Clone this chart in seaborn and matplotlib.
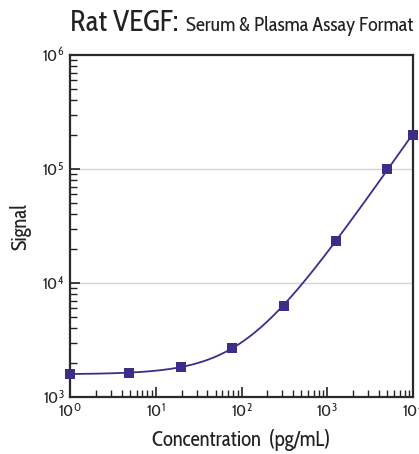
import numpy as np
import pandas as pd
import matplotlib
matplotlib.use("Agg")
import matplotlib.pyplot as plt
import seaborn as sns
from matplotlib.ticker import LogLocator, FixedLocator, NullFormatter

# Data
concentration = [1.0, 4.88, 19.5, 78.0, 312.5, 1250.0, 5000.0, 10000.0]
signal = [1590, 1620, 1850, 2700, 6300, 23500, 100000, 200000]
x_ticks = [1, 10, 100, 1000, 10000]
x_tick_labels = [r"$10^0$", r"$10^1$", r"$10^2$", r"$10^3$", r"$10^4$"]
y_ticks = [1000, 10000, 100000, 1000000]
y_tick_labels = [r"$10^3$", r"$10^4$", r"$10^5$", r"$10^6$"]

color = "#3b2e8a"

sns.set_style("white")
FONT = ["Cabin Condensed", "DejaVu Sans"]
plt.rcParams["font.family"] = FONT
plt.rcParams["mathtext.fontset"] = "custom"
plt.rcParams["mathtext.rm"] = "Cabin Condensed"
plt.rcParams["mathtext.it"] = "Cabin Condensed"
plt.rcParams["mathtext.bf"] = "Cabin Condensed"

# Fit baseline + power law (curve fitted from the data points)
x = np.array(concentration)
y = np.array(signal, dtype=float)
best = None
for n in np.linspace(0.5, 2.0, 301):
    A = np.vstack([np.ones_like(x), x ** n]).T / y[:, None]
    coef, *_ = np.linalg.lstsq(A, np.ones_like(y), rcond=None)
    pred = coef[0] + coef[1] * x ** n
    if np.all(pred > 0):
        err = np.sum((np.log(pred) - np.log(y)) ** 2)
        if best is None or err < best[0]:
            best = (err, n, coef)
_, n_fit, c_fit = best
xf = np.logspace(0, 4, 300)
yf = c_fit[0] + c_fit[1] * xf ** n_fit
fit_df = pd.DataFrame({"x": xf, "y": yf})
pts_df = pd.DataFrame({"x": concentration, "y": signal})

fig = plt.figure(figsize=(4.19, 4.54), dpi=100)
ax = fig.add_axes([70 / 419, 1 - 397 / 454, (413 - 70) / 419, (397 - 55) / 454])
ax.set_xscale("log")
ax.set_yscale("log")

for yy in [1e4, 1e5]:
    ax.axhline(yy, color="#d4d4d4", lw=1.0, zorder=0)

sns.lineplot(data=fit_df, x="x", y="y", ax=ax, color=color, lw=1.3, zorder=2)
sns.scatterplot(data=pts_df, x="x", y="y", ax=ax, color=color, marker="s",
                s=62, edgecolor=color, linewidth=0, zorder=3, clip_on=False)

ax.set_xlim(1, 10000)
ax.set_ylim(1000, 1e6)
ax.xaxis.set_major_locator(FixedLocator(x_ticks))
ax.yaxis.set_major_locator(FixedLocator(y_ticks))
ax.set_xticklabels(x_tick_labels)
ax.set_yticklabels(y_tick_labels)
ax.xaxis.set_minor_locator(LogLocator(base=10, subs=np.arange(2, 10)))
ax.yaxis.set_minor_locator(LogLocator(base=10, subs=np.arange(2, 10)))
ax.xaxis.set_minor_formatter(NullFormatter())
ax.yaxis.set_minor_formatter(NullFormatter())
ax.tick_params(axis="both", which="both", direction="in", color="#222222",
               bottom=True, left=True, top=False, right=False)
ax.tick_params(axis="both", which="major", length=7, width=1.2, labelsize=12, pad=4)
ax.tick_params(axis="both", which="minor", length=5, width=1.0)
for sp in ax.spines.values():
    sp.set_color("#2a2a2a")
    sp.set_linewidth(1.6)

ax.set_xlabel("Concentration  (pg/mL)", fontsize=15, labelpad=6, color="#222222")
ax.set_ylabel("Signal", fontsize=15, labelpad=8, color="#222222")

fig.text(70 / 419, 1 - 31 / 454, "Rat VEGF:", fontsize=21, ha="left", va="baseline",
         color="#222222")
fig.text(413 / 419, 1 - 31 / 454, "Serum & Plasma Assay Format", fontsize=14.5,
         ha="right", va="baseline", color="#222222")

fig.savefig("out.png", dpi=100)
